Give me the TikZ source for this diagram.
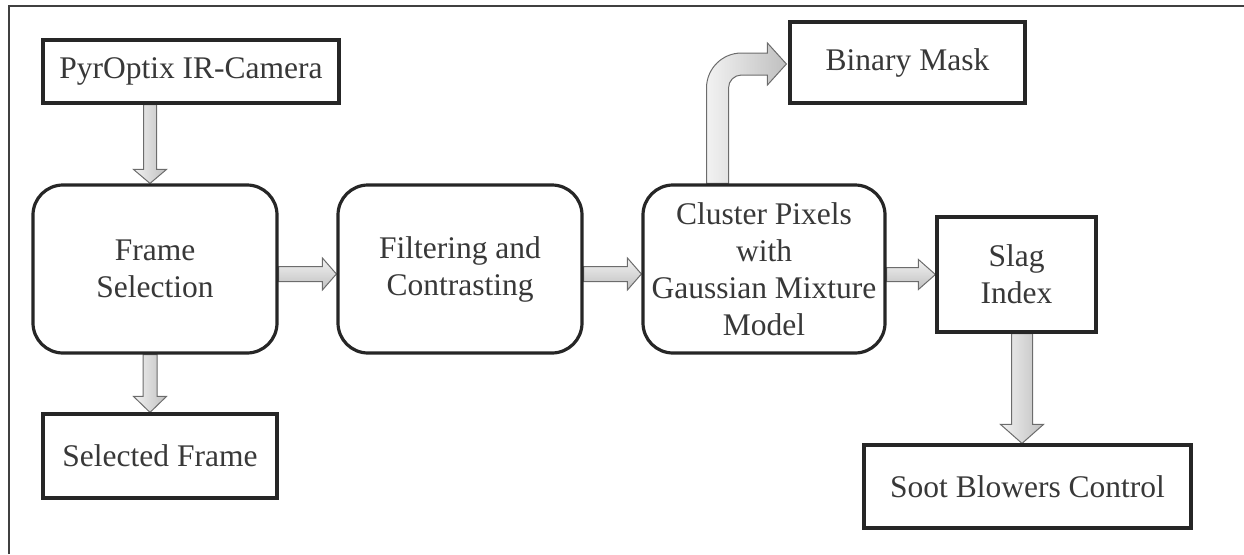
\documentclass[tikz,border=0pt]{standalone}
\usepackage{fontspec}
\setmainfont{Liberation Serif}
\usetikzlibrary{calc}
\pgfdeclarelayer{bg}
\pgfsetlayers{bg,main}
\newcommand{\fatArrH}[5]{% start, tip, half shaft, half head, head length
  \path[fathstyle] let \p1=(#1), \p2=(#2) in
    (\x1,\y2+#3) -- (\x2-#5,\y2+#3) -- (\x2-#5,\y2+#4) -- (\x2,\y2)
    -- (\x2-#5,\y2-#4) -- (\x2-#5,\y2-#3) -- (\x1,\y2-#3) -- cycle;}
\newcommand{\fatArrV}[5]{% start, tip, half shaft, half head, head length
  \path[fatvstyle] let \p1=(#1), \p2=(#2) in
    (\x2-#3,\y1) -- (\x2-#3,\y2+#5) -- (\x2-#4,\y2+#5) -- (\x2,\y2)
    -- (\x2+#4,\y2+#5) -- (\x2+#3,\y2+#5) -- (\x2+#3,\y1) -- cycle;}
\begin{document}
\begin{tikzpicture}[x=1pt,y=-1pt,
  box/.style={draw=black!85, line width=3.2pt, fill=white, inner sep=0pt,
    align=center, text=black!78, font=\fontsize{31.5}{37}\selectfont},
  rbox/.style={box, rounded corners=30pt},
  fathstyle/.style={draw=gray!85!black, line width=1pt, top color=gray!10, bottom color=gray!50},
  fatvstyle/.style={draw=gray!85!black, line width=1pt, left color=gray!10, right color=gray!50},
]
\useasboundingbox (0,0) rectangle (1244,554);
\draw[line width=2pt, black!75] (9,554) -- (9,6) -- (1244,6);

\node[box, minimum width=296pt, minimum height=63pt] (cam) at (191,71.5) {PyrOptix IR-Camera};
\node[rbox, minimum width=244pt, minimum height=168pt] (fs) at (155,269) {Frame\\Selection};
\node[rbox, minimum width=244pt, minimum height=168pt] (ff) at (460,269) {Filtering and\\Contrasting};
\node[rbox, minimum width=242pt, minimum height=168pt] (cl) at (764,269) {Cluster Pixels\\with\\Gaussian Mixture\\Model};
\node[box, minimum width=235pt, minimum height=81pt] (bm) at (907.5,62.5) {Binary Mask};
\node[box, minimum width=159pt, minimum height=115pt] (sl) at (1016.5,274.5) {Slag\\Index};
\node[box, minimum width=234pt, minimum height=84pt] (sf) at (160,456) {Selected Frame};
\node[box, minimum width=327pt, minimum height=83pt] (sb) at (1027.5,486.5) {Soot Blowers Control};

\begin{pgfonlayer}{bg}
\fatArrV{cam.south}{$(fs.north)+(-5,0)$}{6.5pt}{16.5pt}{14pt}
\fatArrV{fs.south}{$(sf.north)+(-10,0)$}{7pt}{16.5pt}{16pt}
\fatArrH{fs.east}{$(ff.west)+(0,5)$}{7.5pt}{16pt}{14pt}
\fatArrH{ff.east}{$(cl.west)+(0,5)$}{7.5pt}{16pt}{14pt}
\fatArrH{cl.east}{sl.west}{7pt}{15pt}{17pt}
\fatArrV{sl.south}{$(sb.north)+(-5.5,0)$}{10.5pt}{21.5pt}{19pt}
\path[fatvstyle] let \p1=($(cl.north)+(-46.5,0)$), \p2=($(bm.west)+(-2,1.5)$) in
  (\x1-11pt,\y1) -- (\x1-11pt,\y2-24pt)
  arc[start angle=180, end angle=90, radius=35pt]
  -- (\x2-19pt,\y2+11pt) -- (\x2-19pt,\y2+21pt) -- (\x2,\y2)
  -- (\x2-19pt,\y2-21pt) -- (\x2-19pt,\y2-11pt) -- (\x1+24pt,\y2-11pt)
  arc[start angle=90, end angle=180, radius=13pt]
  -- (\x1+11pt,\y1) -- cycle;
\end{pgfonlayer}
\end{tikzpicture}
\end{document}
